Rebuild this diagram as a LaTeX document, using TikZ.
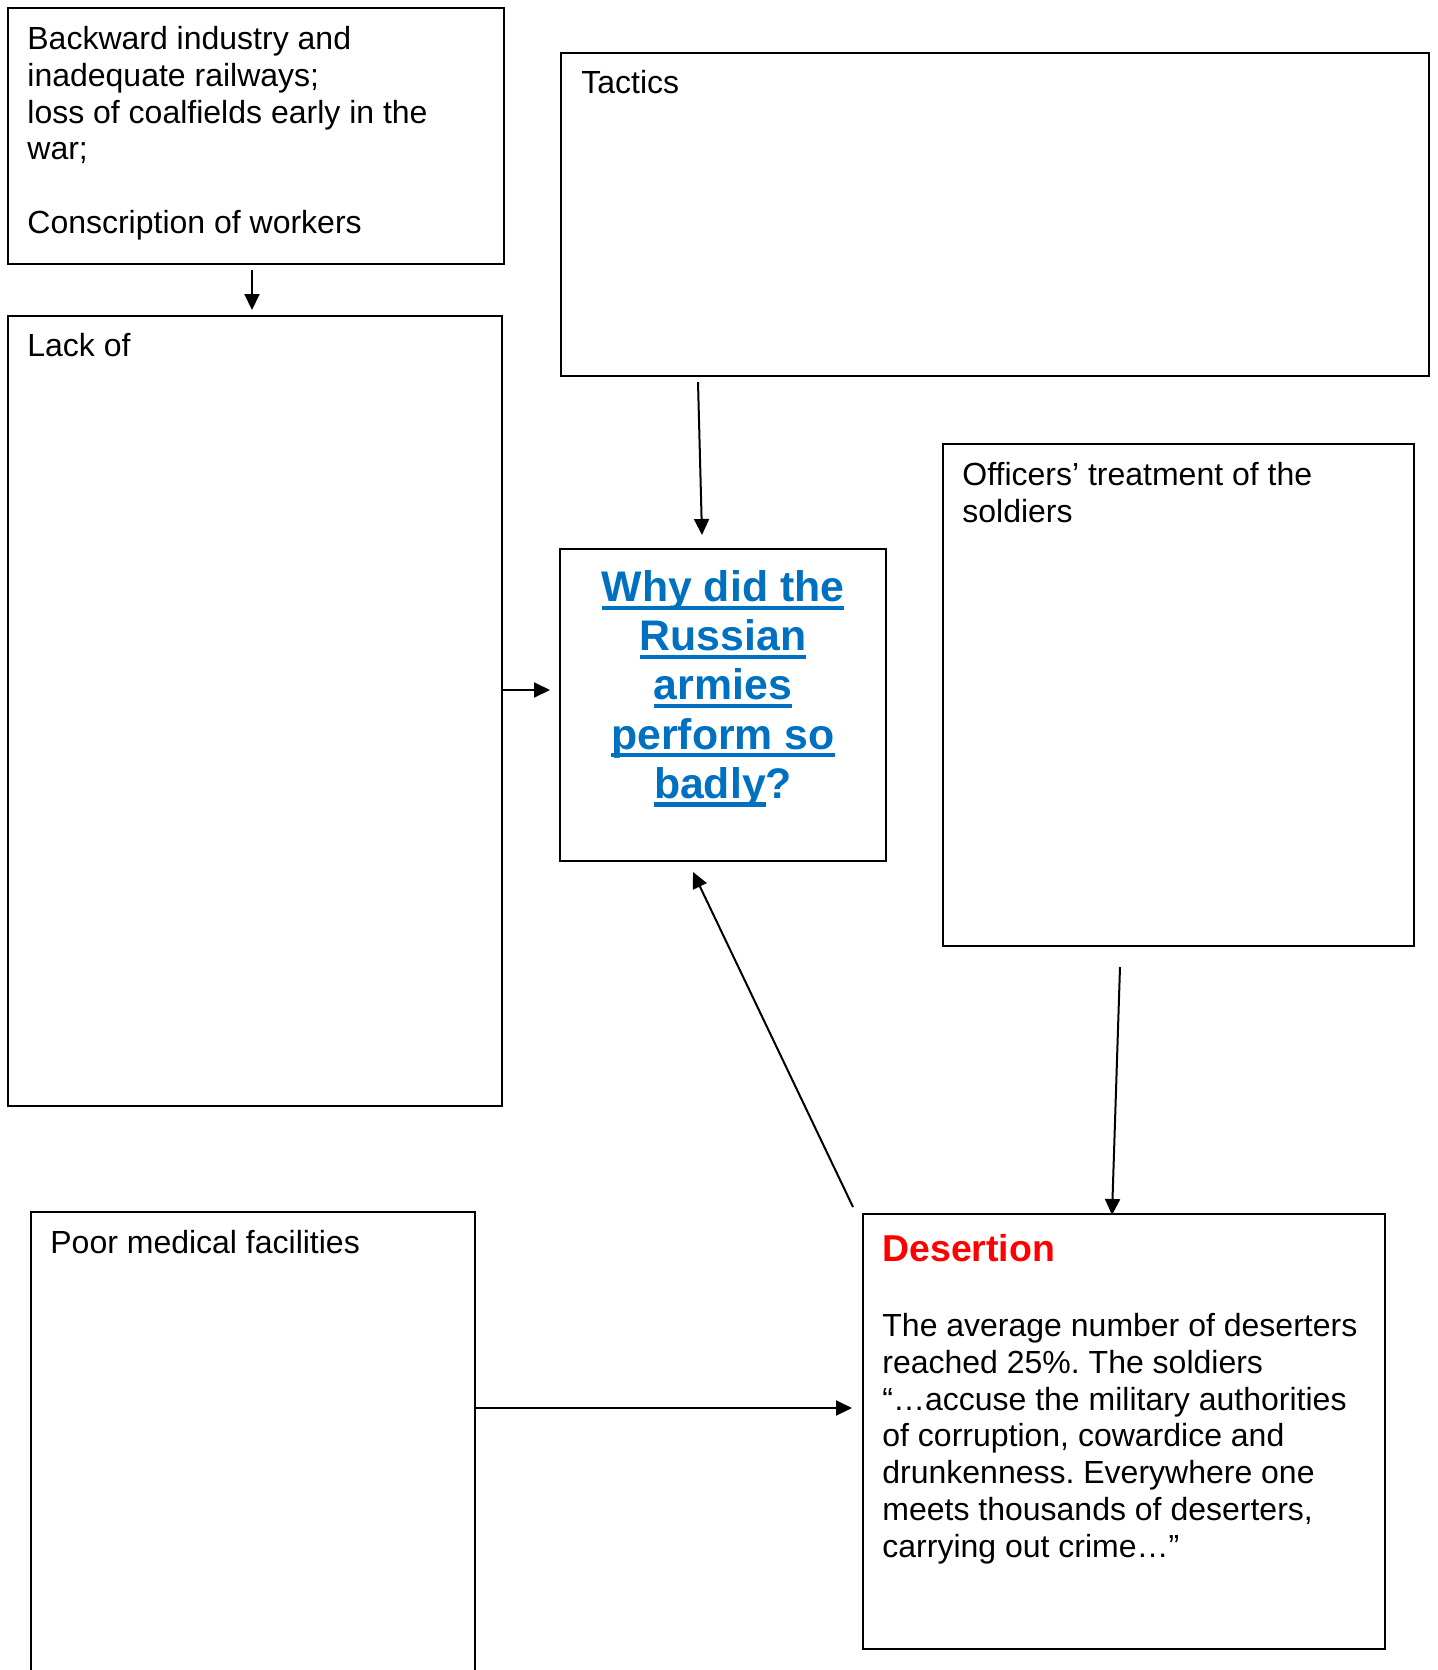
\documentclass[tikz,border=0pt]{standalone}
\usepackage{fontspec}
\setmainfont{Liberation Sans}
\usetikzlibrary{arrows.meta,positioning,calc}
\definecolor{titleblue}{RGB}{0,112,192}
\definecolor{desertred}{RGB}{255,0,0}
\frenchspacing
\newcommand{\bodyfont}{\fontsize{16}{18.4}\selectfont}
\newcommand{\titlefont}{\fontsize{21.4}{24.6}\selectfont\bfseries}
\newcommand{\uln}[1]{\sbox0{#1}\rlap{\rule[-4.15pt]{\wd0}{2.1pt}}\usebox0}

\begin{document}
\begin{tikzpicture}[x=0.5pt, y=-0.5pt]
	\tikzstyle{panel} = [draw=black, line width=1pt, anchor=north west, inner sep=0pt]
	\tikzstyle{paneltext} = [anchor=north west, inner xsep=10pt, inner ysep=9.5pt, 
	align=left, font=\bodyfont]
	\tikzstyle{arrow} = [line width=1pt, -{Triangle[length=8pt,width=7.5pt]}]
	\clip (0,0) rectangle (1437,1670);
	% boxes
	\node (backward) [panel, minimum width=248pt, minimum height=128pt] at (7,7) {};
	\node (lackof) [panel, minimum width=247pt, minimum height=395pt] at (7,315) {};
	\node (tactics) [panel, minimum width=434pt, minimum height=161.5pt] at (560,52) {};
	\node (question) [panel, minimum width=163pt, minimum height=156pt] at (559,548) {};
	\node (officers) [panel, minimum width=235.5pt, minimum height=251pt] at (942,443) {};
	\node (desertion) [panel, minimum width=261pt, minimum height=217.5pt] at (862,1213) {};
	\node (medical) [panel, minimum width=222pt, minimum height=244.5pt] at (30,1211) {};
	% texts
	\node (backwardtext) [paneltext] at (backward.north west) {Backward industry and\\ 
	inadequate railways;\\ loss of coalfields early in the\\ war;\\[18.4pt] Conscription of workers};
	\node (lackoftext) [paneltext, inner ysep=9pt] at (lackof.north west) {Lack of};
	\node (tacticstext) [paneltext, inner xsep=10.5pt, inner ysep=9pt] at (tactics.north west) {Tactics};
	\node (officerstext) [paneltext] at (officers.north west) {Officers’ treatment of the\\ soldiers};
	\node (medicaltext) [paneltext] at (medical.north west) {Poor medical facilities};
	\node (questiontext) [anchor=north, inner ysep=11pt, align=center, font=\titlefont, 
	text=titleblue] at (question.north) {\uln{Why did the}\\ \uln{Russian}\\ \uln{armies}\\ 
	\uln{perform so}\\ \uln{badly}?};
	\node (deserttext) [paneltext, inner xsep=10pt, inner ysep=10.5pt] at (desertion.north west) 
	{{\fontsize{18.7}{21}\selectfont\bfseries\color{desertred}Desertion}\\[19.1pt]
	The average number of deserters\\ reached 25\%. The soldiers\\ 
	“…accuse the military authorities\\ of corruption, cowardice and\\ 
	drunkenness. Everywhere one\\ meets thousands of deserters,\\ carrying out crime…”};
	% connectors
	\coordinate (lackofout) at ([yshift=10.5pt]lackof.east);
	\coordinate (medicalout) at ([shift={(0,197)}]medical.north east);
	\draw [arrow] ([xshift=-2pt,yshift=-2.5pt]backward.south) -- ([xshift=-2pt,yshift=2.5pt]backward.south |- lackof.north);
	\draw [arrow] ([shift={(138,5)}]tactics.south west) -- ([shift={(143,-13)}]question.north west);
	\draw [arrow, shorten >=4.5pt] (lackofout) -- (lackofout -| question.west);
	\draw [arrow] ([shift={(178,20)}]officers.south west) -- ([shift={(250,2)}]desertion.north west);
	\draw [arrow] ([shift={(-9,-6)}]desertion.north west) -- ([shift={(134,10)}]question.south west);
	\draw [arrow, shorten >=5pt] (medicalout) -- (medicalout -| desertion.west);
\end{tikzpicture}
\end{document}
